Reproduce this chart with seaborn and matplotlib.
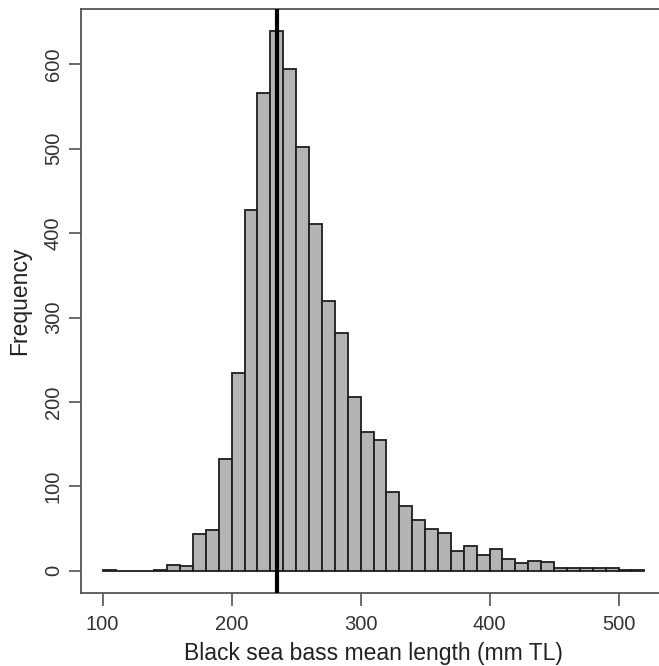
import numpy as np
import pandas as pd
import matplotlib
matplotlib.use("Agg")
import matplotlib.pyplot as plt
import seaborn as sns

# Histogram data (bin width 10 mm, from 100 to 520 mm TL)
bin_edges = list(range(100, 530, 10))
counts = [1, 0, 0, 0, 1, 7, 6, 44, 48, 132,
          235, 427, 566, 639, 594, 502, 411, 320, 282, 206,
          164, 155, 93, 77, 60, 50, 45, 23, 30, 19,
          26, 14, 9, 12, 10, 3, 4, 3, 4, 3,
          1, 1]
mean_length = 235
x_ticks = [100, 200, 300, 400, 500]
y_ticks = [0, 100, 200, 300, 400, 500, 600]

bin_mid = [(a + b) / 2 for a, b in zip(bin_edges[:-1], bin_edges[1:])]
df = pd.DataFrame({"length": bin_mid, "freq": counts})

sns.set_style("white")
plt.rcParams['font.family'] = ['Liberation Sans', 'DejaVu Sans']

fig = plt.figure(figsize=(6.59, 6.66), dpi=100)
ax = fig.add_axes([81 / 659, (666 - 592.5) / 666, 585 / 659, 583.5 / 666])

sns.histplot(data=df, x="length", weights="freq", bins=bin_edges,
             color="#b4b4b4", edgecolor="#1e1e1e", linewidth=1.3,
             alpha=1.0, ax=ax)

ax.axvline(mean_length, color="black", linewidth=3.0, zorder=5)

ax.set_xlim(83.2, 536.8)
ax.set_ylim(-25.6, 665.6)
ax.set_xticks(x_ticks)
ax.set_yticks(y_ticks)
ax.set_xticklabels([str(v) for v in x_ticks], fontsize=14.5, color="#333333")
ax.set_yticklabels([str(v) for v in y_ticks], fontsize=14.5, color="#333333",
                   rotation=90, va="center")
ax.tick_params(axis="both", direction="out", length=9, width=1.1,
               color="#444444", bottom=True, left=True)
ax.tick_params(axis="x", pad=7)
ax.tick_params(axis="y", pad=4)
ax.set_xlabel("Black sea bass mean length (mm TL)", fontsize=16.5,
              color="#222222", labelpad=6)
ax.set_ylabel("Frequency", fontsize=16.5, color="#222222", labelpad=9)
for s in ax.spines.values():
    s.set_visible(True)
    s.set_color("#555555")
    s.set_linewidth(1.3)

fig.savefig("out.png", dpi=100)
